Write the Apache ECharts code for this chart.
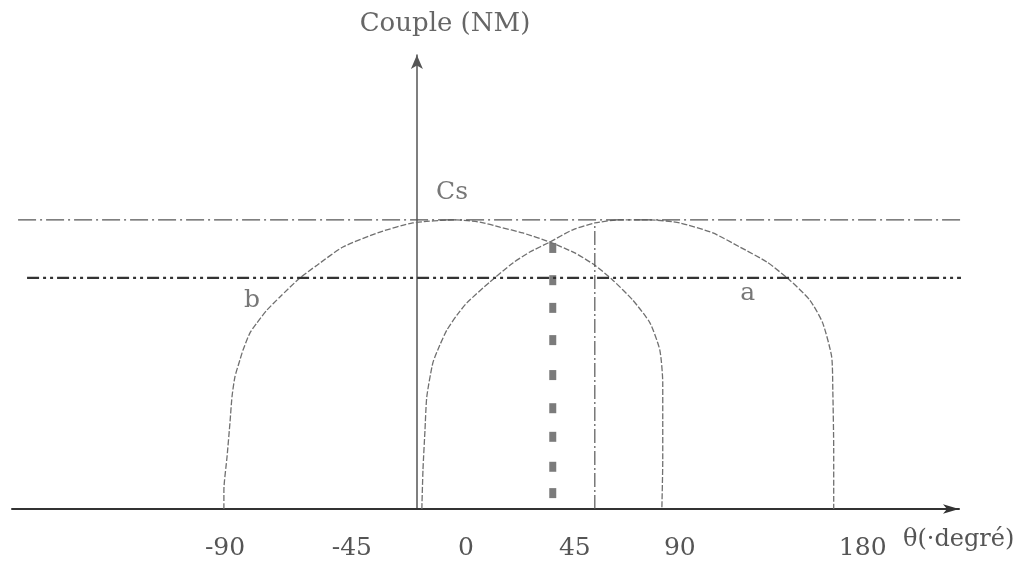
<!DOCTYPE html>
<html>
<head>
<meta charset="utf-8">
<script src="https://cdn.jsdelivr.net/npm/echarts@6/dist/echarts.min.js"></script>
<style>
  html, body { margin: 0; padding: 0; background: #ffffff; }
  #chart { width: 1021px; height: 569px; }
</style>
</head>
<body>
<div id="chart"></div>
<script>
// Torque curves versus rotor angle (degrees) — couple in arbitrary units
const curveB = [[-85.8,0],[-85.8,4.2],[-84.4,11.5],[-83.1,19.0],[-82.2,24.7],[-80.9,29.1],
  [-78.7,32.8],[-77.3,35.0],[-74.2,38.8],[-71.1,41.0],[-66.7,43.8],[-60.9,46.7],[-52.0,50.9],
  [-44.4,53.7],[-32.9,57.7],[-16.4,61.0],[-1.8,63.0],[16.9,63.7],[28.0,63.2],[36.9,62.1],
  [47.1,60.8],[59.1,58.8],[70.2,56.4],[79.1,53.7],[87.1,50.4],[96.0,46.0],[103.6,41.0],
  [108.0,35.0],[109.3,27.8],[109.3,19.6],[109.3,10.8],[108.9,0]];

const curveA = [[2.2,0],[2.7,8.6],[3.6,17.4],[4.4,24.7],[7.1,32.2],[10.2,36.1],[13.3,39.4],
  [17.8,42.7],[22.2,45.4],[32.4,50.0],[42.7,54.2],[50.2,56.6],[59.1,58.8],[69.3,61.5],
  [79.1,63.0],[90.2,63.7],[103.6,63.7],[116.9,63.0],[131.6,60.8],[143.6,57.7],[155.6,54.4],
  [165.8,50.4],[174.7,46.0],[180.4,41.0],[184.4,33.5],[184.9,26.2],[185.3,13.0],[185.3,0]];

// Horizontal reference levels
const levelCs = 63.7;
const levelLow = 50.9;
const levelCsSpan = [-177.3, 253.3];
const levelLowSpan = [-173.3, 259.1];

// Vertical construction lines
const markerAngle = 60.4;
const markerValues = [57.5, 50.4, 44.3, 37.2, 29.5, 22.2, 15.9, 9.3, 3.5];
const peakAngle = 79.1;
const peakValue = 63.0;

// Tick labels and the axis values where they are printed
const xTickLabels = ['-90', '-45', '0', '45', '90', '180'];
const xTickAt = [-85.3, -28.9, 21.8, 70.2, 116.9, 198.2];

// Curve and level annotations
const annotations = [
  { text: 'Cs', at: [15.6, 69.8] },
  { text: 'b', at: [-73.3, 46.0] },
  { text: 'a', at: [147.1, 47.4] }
];

const serif = '"DejaVu Serif", "Liberation Serif", serif';
const inkGray = '#555';

const chart = echarts.init(document.getElementById('chart'));

chart.setOption({
  backgroundColor: '#ffffff',
  animation: false,
  graphic: [
    {
      type: 'text',
      x: 445,
      y: 24,
      style: {
        text: 'Couple (NM)',
        font: '26px ' + serif,
        fill: '#666',
        align: 'center',
        verticalAlign: 'middle'
      }
    },
    {
      type: 'text',
      x: 903,
      y: 540,
      style: {
        text: 'θ(·degré)',
        font: '24px ' + serif,
        fill: '#555',
        align: 'left',
        verticalAlign: 'middle'
      }
    }
  ],
  grid: { left: 12, right: 62, top: 55, bottom: 60, containLabel: false },
  xAxis: {
    type: 'value',
    min: -180,
    max: 241,
    axisLine: {
      show: true,
      lineStyle: { color: '#333', width: 2 },
      symbol: ['none', 'arrow'],
      symbolSize: [7, 16]
    },
    axisTick: { show: false },
    splitLine: { show: false },
    axisLabel: {
      customValues: xTickAt,
      formatter: function (v) {
        const i = xTickAt.indexOf(v);
        return i >= 0 ? xTickLabels[i] : '';
      },
      fontFamily: serif,
      fontSize: 25,
      color: inkGray,
      margin: 27
    }
  },
  yAxis: {
    type: 'value',
    min: 0,
    max: 100,
    axisLine: {
      show: true,
      onZero: true,
      lineStyle: { color: '#555', width: 1.5 },
      symbol: ['none', 'arrow'],
      symbolSize: [9, 14]
    },
    axisTick: { show: false },
    axisLabel: { show: false },
    splitLine: { show: false }
  },
  series: [
    {
      name: 'b',
      type: 'line',
      data: curveB,
      smooth: 0.2,
      symbol: 'none',
      lineStyle: { color: '#707070', width: 1.3, type: [6, 2] }
    },
    {
      name: 'a',
      type: 'line',
      data: curveA,
      smooth: 0.2,
      symbol: 'none',
      lineStyle: { color: '#707070', width: 1.3, type: [6, 2] }
    },
    {
      name: 'Cs',
      type: 'line',
      clip: false,
      data: [[levelCsSpan[0], levelCs], [levelCsSpan[1], levelCs]],
      symbol: 'none',
      lineStyle: { color: '#555', width: 1.2, type: [18, 4, 2, 4] }
    },
    {
      name: 'seuil',
      type: 'line',
      clip: false,
      data: [[levelLowSpan[0], levelLow], [levelLowSpan[1], levelLow]],
      symbol: 'none',
      lineStyle: { color: '#333', width: 2.2, type: [12, 4, 3, 4, 3, 4] }
    },
    {
      name: 'pic',
      type: 'line',
      data: [[peakAngle, 0], [peakAngle, peakValue]],
      symbol: 'none',
      lineStyle: { color: '#555', width: 1.2, type: [14, 3, 2, 3] }
    },
    {
      name: 'repères',
      type: 'scatter',
      data: markerValues.map(v => [markerAngle, v]),
      symbol: 'rect',
      symbolSize: [7, 10],
      itemStyle: { color: '#5a5a5a' }
    },
    {
      name: 'notes',
      type: 'scatter',
      data: annotations.map(a => ({ value: a.at, name: a.text })),
      symbolSize: 0,
      label: {
        show: true,
        position: 'inside',
        formatter: p => p.name,
        fontFamily: serif,
        fontSize: 25,
        color: '#555'
      }
    }
  ]
});
</script>
</body>
</html>
